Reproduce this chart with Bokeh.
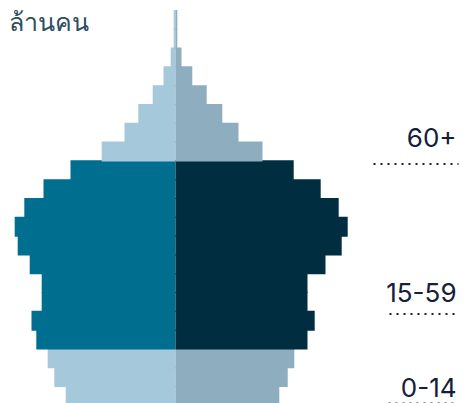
from bokeh.plotting import figure
from bokeh.models import ColumnDataSource, Label
from bokeh.embed import file_html
from bokeh.resources import INLINE

# Age bands, youngest first (5-year bins)
ages = ["0-4", "5-9", "10-14", "15-19", "20-24", "25-29", "30-34", "35-39",
        "40-44", "45-49", "50-54", "55-59", "60-64", "65-69", "70-74",
        "75-79", "80-84", "85-89", "90-94", "95-99", "100+"]
# Population in millions (left side / right side)
left_vals = [1.83, 2.02, 2.13, 2.32, 2.40, 2.23, 2.23, 2.43, 2.63, 2.68, 2.52,
             2.20, 1.75, 1.23, 0.85, 0.62, 0.38, 0.20, 0.08, 0.03, 0.03]
right_vals = [1.73, 1.87, 1.98, 2.20, 2.32, 2.20, 2.20, 2.50, 2.77, 2.87, 2.72,
              2.42, 1.97, 1.45, 1.05, 0.78, 0.52, 0.28, 0.10, 0.03, 0.03]
# Broad group of each band as coloured in the chart
groups = ["young"] * 3 + ["work"] * 10 + ["old"] * 8
group_labels = ["60+", "15-59", "0-14"]
unit_label = "ล้านคน"

left_colors = {"young": "#a5c8da", "work": "#006e8f", "old": "#a5c8da"}
right_colors = {"young": "#8eadbe", "work": "#002d40", "old": "#8eadbe"}

W, H = 469, 403
px_unit = 60.0
row_h = 18.8
cx = 175.0
x0 = -cx / px_unit
x1 = (W - cx) / px_unit
n = len(ages)
y_top = n + 10 / row_h
y_bot = y_top - H / row_h


def dx(px):
    return x0 + px / px_unit


def dy(py):
    return y_top - py / row_h


src = ColumnDataSource(dict(
    y=[i + 0.5 for i in range(n)],
    neg=[-v for v in left_vals],
    pos=right_vals,
    cl=[left_colors[g] for g in groups],
    cr=[right_colors[g] for g in groups],
    age=ages,
))

p = figure(width=W, height=H, x_range=(x0, x1), y_range=(y_bot, y_top),
           output_backend="svg", toolbar_location=None, min_border=0,
           background_fill_color="white", border_fill_color="white")
p.axis.visible = False
p.grid.visible = False
p.outline_line_color = None

p.hbar(y="y", left="neg", right=0, height=1.06, fill_color="cl",
       line_color=None, source=src)
p.hbar(y="y", left=0, right="pos", height=1.06, fill_color="cr",
       line_color=None, source=src)

text_color = "#14203a"
lab_y = [dy(137), dy(291.5), dy(386.5)]
line_y = [dy(163.5), dy(313.5), dy(403)]
line_x0 = [dx(373), dx(389), dx(388)]
x_right = dx(458)
for lab, ly, liy, lx in zip(group_labels, lab_y, line_y, line_x0):
    p.add_layout(Label(x=dx(456), y=ly, text=lab,
                       text_align="right", text_baseline="alphabetic",
                       text_font="Inter", text_font_size="26px",
                       text_color=text_color))
    p.segment(x0=[lx], y0=[liy], x1=[x_right], y1=[liy],
              line_color=text_color, line_width=2, line_dash="2 5")

p.add_layout(Label(x=8, y=H - 20, x_units="screen", y_units="screen",
                   text=unit_label, text_font="Noto Sans",
                   text_font_size="25px", text_color="#2b4d5e",
                   text_baseline="alphabetic"))

open("out.html", "w").write(file_html(p, INLINE))
